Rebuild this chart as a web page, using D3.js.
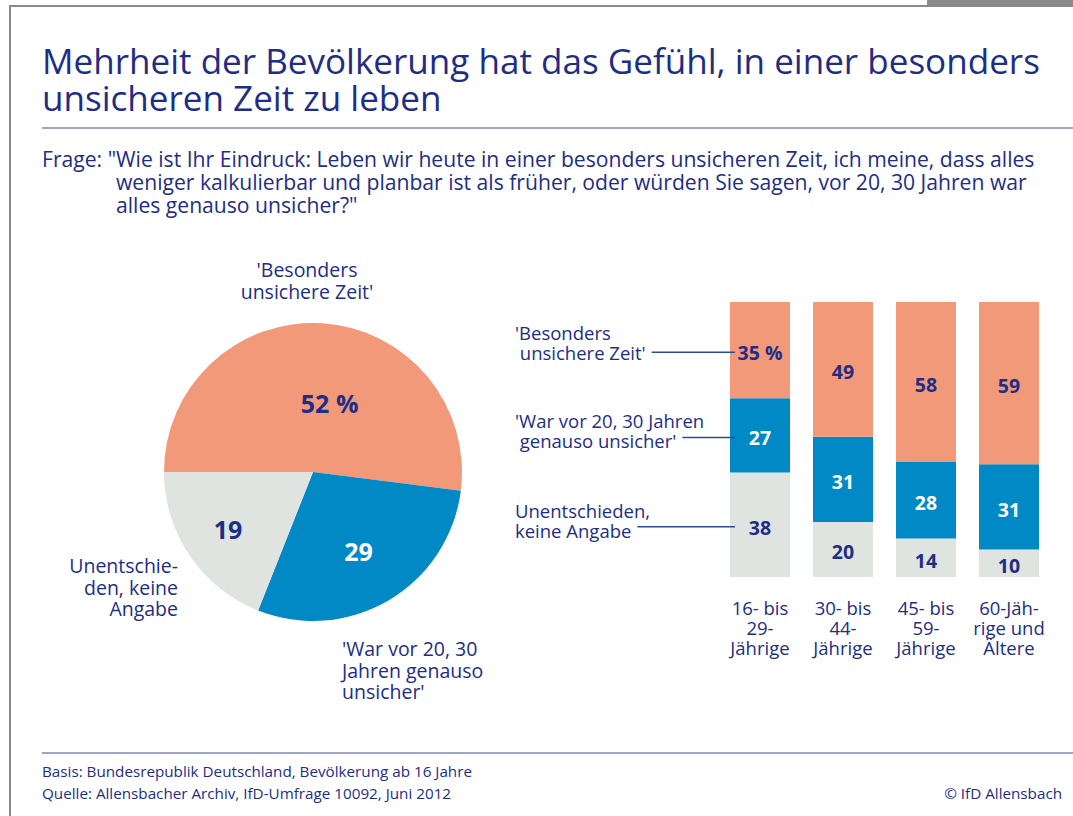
<!DOCTYPE html>
<html>
<head>
<meta charset="utf-8">
<script src="https://cdn.jsdelivr.net/npm/d3@7"></script>
<style>
  body { margin: 0; background: #fff; }
  text { font-family: "Open Sans", "DejaVu Sans", sans-serif; }
</style>
</head>
<body>
<script>
// pie: whole population
var pieKeys = ["unsicher", "genauso", "unentschieden"];
var pieValues = [52, 29, 19];
var pieText = ["52 %", "29", "19"];

// bars: by age group
var ageGroups = ["16-29", "30-44", "45-59", "60+"];
var ageLabels = [["16- bis", "29-", "Jährige"], ["30- bis", "44-", "Jährige"], ["45- bis", "59-", "Jährige"], ["60-Jäh-", "rige und", "Ältere"]];
var unsicher = [35, 49, 58, 59];
var genauso = [27, 31, 28, 31];
var unentschieden = [38, 20, 14, 10];

var legendLabels = {
  unsicher: ["'Besonders", " unsichere Zeit'"],
  genauso: ["'War vor 20, 30 Jahren", " genauso unsicher'"],
  unentschieden: ["Unentschieden,", "keine Angabe"]
};

var colors = { unsicher: "#f2997a", genauso: "#0089c5", unentschieden: "#e0e4e1" };
var navy = "#1e2d86";

var W = 1073, H = 816;
var svg = d3.select("body").append("svg").attr("width", W).attr("height", H);

// frame
svg.append("rect").attr("x", 0).attr("y", 0).attr("width", W).attr("height", H).attr("fill", "#fff");
svg.append("line").attr("x1", 10).attr("x2", 10).attr("y1", 5).attr("y2", H)
  .attr("stroke", "#8a8a8a").attr("stroke-width", 2);
svg.append("line").attr("x1", 9).attr("x2", 927).attr("y1", 6).attr("y2", 6)
  .attr("stroke", "#8a8a8a").attr("stroke-width", 2);
svg.append("rect").attr("x", 927).attr("y", 0).attr("width", W - 927).attr("height", 7).attr("fill", "#8a8a8a");

// fit font size so text gets a given width
function fit(sel, width) {
  var w = sel.node().getComputedTextLength();
  var fs = parseFloat(sel.attr("font-size"));
  sel.attr("font-size", fs * width / w);
  return fs * width / w;
}

// title
var t1 = svg.append("text").attr("x", 42).attr("y", 74).attr("font-size", 33).attr("fill", navy)
  .text("Mehrheit der Bevölkerung hat das Gefühl, in einer besonders");
var tfs = fit(t1, 998);
svg.append("text").attr("x", 42).attr("y", 111).attr("font-size", tfs).attr("fill", navy)
  .text("unsicheren Zeit zu leben");
svg.append("line").attr("x1", 42).attr("x2", W).attr("y1", 128).attr("y2", 128)
  .attr("stroke", "#7c87bb").attr("stroke-width", 1.5);

// question
var q1 = svg.append("text").attr("x", 42).attr("y", 167).attr("font-size", 18).attr("fill", navy)
  .text("Frage: \"Wie ist Ihr Eindruck: Leben wir heute in einer besonders unsicheren Zeit, ich meine, dass alles");
var qfs = fit(q1, 993);
svg.append("text").attr("x", 116).attr("y", 190).attr("font-size", qfs).attr("fill", navy)
  .text("weniger kalkulierbar und planbar ist als früher, oder würden Sie sagen, vor 20, 30 Jahren war");
svg.append("text").attr("x", 116).attr("y", 213).attr("font-size", qfs).attr("fill", navy)
  .text("alles genauso unsicher?\"");

// pie
var cx = 313, cy = 472, r = 149;
var pie = d3.pie().sort(null).startAngle(-Math.PI / 2).endAngle(Math.PI * 1.5);
var arc = d3.arc().innerRadius(0).outerRadius(r);
var arcs = pie(pieValues);
var pg = svg.append("g").attr("transform", "translate(" + cx + "," + cy + ")");
pg.selectAll("path").data(arcs).enter().append("path")
  .attr("d", arc)
  .attr("fill", function (d, i) { return colors[pieKeys[i]]; });

var labelArc = d3.arc().innerRadius(r * 0.6).outerRadius(r * 0.6);
pg.selectAll("text.val").data(arcs).enter().append("text")
  .attr("class", "val")
  .attr("transform", function (d, i) {
    var c = labelArc.centroid(d);
    var off = [[11, 21], [0, 3], [-11, 8]][i];
    return "translate(" + (c[0] + off[0]) + "," + (c[1] + off[1]) + ")";
  })
  .attr("text-anchor", "middle").attr("dy", "0.35em")
  .attr("font-size", 25).attr("font-weight", "bold")
  .attr("fill", function (d, i) { return pieKeys[i] === "genauso" ? "#fff" : navy; })
  .text(function (d, i) { return pieText[i]; });

function multiline(x, y, lines, anchor, fs, lh) {
  var t = svg.append("text").attr("x", x).attr("y", y).attr("font-size", fs)
    .attr("fill", navy).attr("text-anchor", anchor);
  lines.forEach(function (l, i) {
    t.append("tspan").attr("x", x).attr("y", y + i * lh).text(l);
  });
  return t;
}
multiline(cx - 6, 277, ["'Besonders", "unsichere Zeit'"], "middle", 19.5, 21.5);
multiline(178, 573, ["Unentschie-", "den, keine", "Angabe"], "end", 19.5, 21.5);
multiline(342, 656, ["'War vor 20, 30", "Jahren genauso", "unsicher'"], "start", 19.5, 21.5);

// stacked bars
var rows = ageGroups.map(function (g, i) {
  return { group: g, unsicher: unsicher[i], genauso: genauso[i], unentschieden: unentschieden[i] };
});
var stack = d3.stack().keys(["unentschieden", "genauso", "unsicher"]);
var series = stack(rows);

var x = d3.scaleBand().domain(ageGroups).range([730, 1039]).paddingInner(0.277).paddingOuter(0);
var y = d3.scaleLinear().domain([0, 100]).range([577, 302]);

var sg = svg.selectAll("g.series").data(series).enter().append("g").attr("class", "series")
  .attr("fill", function (s) { return colors[s.key]; });
sg.selectAll("rect").data(function (s) { return s; }).enter().append("rect")
  .attr("x", function (d) { return x(d.data.group); })
  .attr("y", function (d) { return y(d[1]); })
  .attr("width", x.bandwidth())
  .attr("height", function (d) { return y(d[0]) - y(d[1]); });

series.forEach(function (s) {
  svg.selectAll(null).data(s).enter().append("text")
    .attr("x", function (d) { return x(d.data.group) + x.bandwidth() / 2; })
    .attr("y", function (d) { return (y(d[0]) + y(d[1])) / 2 + 3; })
    .attr("dy", "0.35em").attr("text-anchor", "middle")
    .attr("font-size", 19.5).attr("font-weight", "bold")
    .attr("fill", s.key === "genauso" ? "#fff" : navy)
    .text(function (d, i) {
      var v = d[1] - d[0];
      return (s.key === "unsicher" && i === 0) ? v + " %" : v;
    });
});

// legend with leader lines to first bar
var legY = { unsicher: 340, genauso: 428, unentschieden: 518 };
series.forEach(function (s) {
  var lines = legendLabels[s.key];
  var t = multiline(515, legY[s.key], lines, "start", 18.5, 19.5);
  var last = t.selectAll("tspan").nodes()[1];
  var bb = last.getBBox();
  var d = s[0];
  var ly = (y(d[0]) + y(d[1])) / 2 + 2;
  svg.append("line")
    .attr("x1", bb.x + bb.width + 6).attr("x2", x(d.data.group) + 5)
    .attr("y1", ly).attr("y2", ly)
    .attr("stroke", "#2b4a9a").attr("stroke-width", 1.5);
});

// age group labels
ageGroups.forEach(function (g, i) {
  multiline(x(g) + x.bandwidth() / 2, 615, ageLabels[i], "middle", 18.5, 20);
});

// footer
svg.append("line").attr("x1", 42).attr("x2", W).attr("y1", 753).attr("y2", 753)
  .attr("stroke", "#7c87bb").attr("stroke-width", 1.5);
var f1 = svg.append("text").attr("x", 42).attr("y", 777).attr("font-size", 14).attr("fill", navy)
  .text("Basis: Bundesrepublik Deutschland, Bevölkerung ab 16 Jahre");
var ffs = fit(f1, 430);
svg.append("text").attr("x", 42).attr("y", 799).attr("font-size", ffs).attr("fill", navy)
  .text("Quelle: Allensbacher Archiv, IfD-Umfrage 10092, Juni 2012");
svg.append("text").attr("x", 1062).attr("y", 799).attr("font-size", ffs).attr("fill", navy)
  .attr("text-anchor", "end").text("© IfD Allensbach");
</script>
</body>
</html>
